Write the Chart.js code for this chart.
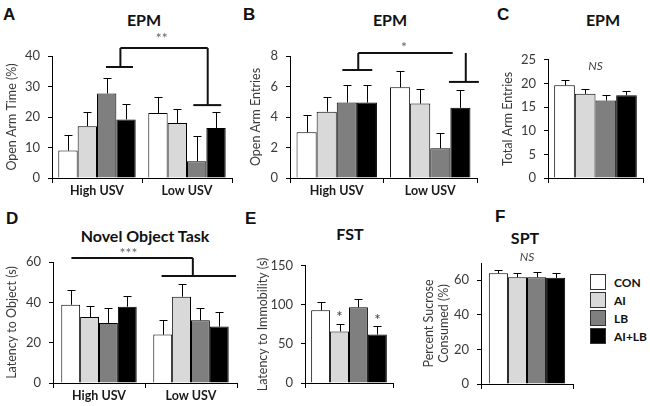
<!DOCTYPE html>
<html>
<head>
<meta charset="utf-8">
<script src="https://cdn.jsdelivr.net/npm/chart.js@4"></script>
<style>
  body { margin: 0; width: 650px; height: 406px; position: relative; overflow: hidden; background: #fff; font-family: Lato, sans-serif; }
  canvas { position: absolute; }
  .letter { position: absolute; font: bold 17px "Liberation Sans", Arial, sans-serif; color: #111; line-height: 17px; }
  .title { position: absolute; font: bold 16px Lato, sans-serif; color: #111; line-height: 16px; transform: translate(-50%, -50%); white-space: nowrap; }
  .legend { position: absolute; left: 590px; top: 273px; }
  .legend div { display: flex; align-items: center; height: 18px; font: bold 12px Lato, sans-serif; color: #111; }
  .legend span { display: inline-block; width: 14px; height: 14px; border: 1px solid #333; margin-right: 8px; }
</style>
</head>
<body>
<div class="letter" style="left:3px;top:6px">A</div>
<div class="letter" style="left:243px;top:6px">B</div>
<div class="letter" style="left:497px;top:6px">C</div>
<div class="letter" style="left:6px;top:210px">D</div>
<div class="letter" style="left:245px;top:210px">E</div>
<div class="letter" style="left:495px;top:208px">F</div>

<div class="title" style="left:144px;top:20px">EPM</div>
<div class="title" style="left:390px;top:20px">EPM</div>
<div class="title" style="left:603px;top:20px">EPM</div>
<div class="title" style="left:145px;top:236px">Novel Object Task</div>
<div class="title" style="left:350px;top:234px">FST</div>
<div class="title" style="left:525px;top:238px">SPT</div>

<canvas id="cA"></canvas>
<canvas id="cB"></canvas>
<canvas id="cC"></canvas>
<canvas id="cD"></canvas>
<canvas id="cE"></canvas>
<canvas id="cF"></canvas>

<div class="legend" id="legend"></div>

<script>
const groups = ["High USV", "Low USV"];
const treatments = ["CON", "AI", "LB", "AI+LB"];
const fills = ["#ffffff", "#d9d9d9", "#7f7f7f", "#000000"];

// A - EPM open arm time (%)
const armTimeHigh = [9, 17, 27.7, 19.2];
const armTimeHighErr = [5.1, 4.6, 5.1, 5];
const armTimeLow = [21.3, 18, 5.5, 16.4];
const armTimeLowErr = [5.3, 4.6, 8.2, 5.1];

// B - EPM open arm entries
const entriesHigh = [3.0, 4.35, 4.95, 4.95];
const entriesHighErr = [1.14, 0.95, 1.14, 1.14];
const entriesLow = [5.95, 4.88, 1.95, 4.6];
const entriesLowErr = [1.08, 0.98, 0.98, 1.18];

// C - EPM total arm entries
const totalEntries = [19.6, 17.8, 16.4, 17.5];
const totalEntriesErr = [1.2, 0.95, 1.2, 1.0];

// D - novel object latency (s)
const objectHigh = [38.8, 32.7, 29.8, 37.8];
const objectHighErr = [7.4, 5.6, 7.4, 5.4];
const objectLow = [24, 42.8, 31.1, 28];
const objectLowErr = [7.1, 6.5, 6.1, 7.3];

// E - FST latency to immobility (s)
const immobility = [93, 66, 97, 62];
const immobilityErr = [11, 10, 10.5, 11];

// F - SPT percent sucrose consumed
const sucrose = [64, 61.8, 61.8, 61.4];
const sucroseErr = [1.9, 2.2, 2.8, 2.6];

const tickColor = "#3a3a3a";

const errorBars = {
  id: "errorBars",
  afterDatasetsDraw(chart) {
    const ctx = chart.ctx;
    const y = chart.scales.y;
    ctx.save();
    ctx.strokeStyle = "#000";
    ctx.lineWidth = 1;
    chart.data.datasets.forEach((ds, i) => {
      chart.getDatasetMeta(i).data.forEach((bar, j) => {
        const top = Math.round(y.getPixelForValue(ds.data[j] + ds.errors[j])) + 0.5;
        const x = Math.round(bar.x) + 0.5;
        ctx.beginPath();
        ctx.moveTo(x, bar.y);
        ctx.lineTo(x, top);
        ctx.moveTo(x - 4, top);
        ctx.lineTo(x + 4, top);
        ctx.stroke();
      });
    });
    ctx.restore();
  }
};

// brackets and significance marks, in data units
function notes(spec) {
  return {
    id: "notes",
    afterDraw(chart) {
      const { ctx } = chart;
      const x = chart.scales.x, y = chart.scales.y;
      ctx.save();
      ctx.strokeStyle = "#111";
      ctx.lineWidth = 2;
      (spec.lines || []).forEach(([x1, y1, x2, y2]) => {
        ctx.beginPath();
        ctx.moveTo(x.getPixelForValue(x1), y.getPixelForValue(y1));
        ctx.lineTo(x.getPixelForValue(x2), y.getPixelForValue(y2));
        ctx.stroke();
      });
      ctx.textAlign = "center";
      ctx.textBaseline = "middle";
      (spec.labels || []).forEach(l => {
        ctx.font = l.font || "13px Lato";
        ctx.fillStyle = l.color || "#444";
        ctx.fillText(l.text, x.getPixelForValue(l.x), y.getPixelForValue(l.y));
      });
      (spec.barMarks || []).forEach(m => {
        const ds = chart.data.datasets[m.ds];
        const bar = chart.getDatasetMeta(m.ds).data[0];
        ctx.font = "15px Lato";
        ctx.fillStyle = "#333";
        ctx.fillText(m.text, bar.x, y.getPixelForValue(ds.data[0] + ds.errors[0]) - 6);
      });
      ctx.restore();
    }
  };
}

function makeChart(id, cfg) {
  const [left, top, right, bottom] = cfg.area;
  const padTop = cfg.padTop || 12, padRight = cfg.padRight || 4, xH = 24;
  const canvas = document.getElementById(id);
  canvas.width = right - left + cfg.yW + padRight;
  canvas.height = bottom - top + padTop + xH;
  canvas.style.left = (left - cfg.yW) + "px";
  canvas.style.top = (top - padTop) + "px";

  new Chart(canvas.getContext("2d"), {
    type: "bar",
    data: {
      labels: cfg.labels,
      datasets: treatments.map((t, i) => ({
        label: t,
        data: cfg.values[i],
        errors: cfg.errors[i],
        backgroundColor: fills[i],
        borderColor: "#000",
        borderWidth: 1,
        categoryPercentage: cfg.catPct,
        barPercentage: 1
      }))
    },
    options: {
      responsive: false,
      animation: false,
      layout: { padding: { top: padTop, right: padRight, left: 0, bottom: 0 } },
      plugins: { legend: { display: false }, tooltip: { enabled: false } },
      scales: {
        x: {
          afterFit(s) { s.height = xH; },
          grid: { display: true, drawOnChartArea: false, offset: true, tickLength: 5, color: "#000" },
          border: { color: "#000" },
          ticks: { padding: 0, color: "#1a1a1a", font: { family: "Lato", size: 12.5, weight: "bold" } }
        },
        y: {
          min: 0,
          max: cfg.yMax,
          afterFit(s) { s.width = cfg.yW; },
          grid: { display: true, drawOnChartArea: false, tickLength: 4, color: "#000" },
          border: { color: "#000" },
          ticks: { stepSize: cfg.step, padding: 8, color: tickColor, font: { family: "Lato", size: 13 } },
          title: {
            display: true,
            text: cfg.yTitle,
            color: tickColor,
            padding: { top: 0, bottom: 0 },
            font: { family: "Lato", size: 12.5 }
          }
        }
      }
    },
    plugins: [errorBars, notes(cfg.notes || {})]
  });
}

const pairs = (a, b) => a.map((v, i) => [v, b[i]]);
const singles = a => a.map(v => [v]);

makeChart("cA", {
  area: [52, 56, 232, 178], yW: 48, padTop: 28,
  labels: groups, yMax: 40, step: 10, catPct: 0.86,
  yTitle: "Open Arm Time (%)",
  values: pairs(armTimeHigh, armTimeLow),
  errors: pairs(armTimeHighErr, armTimeLowErr),
  notes: {
    lines: [[0.26, 42.6, 1.23, 42.6], [0.26, 42.6, 0.26, 36.4], [0.1, 36.4, 0.4, 36.4],
            [1.23, 42.6, 1.23, 23.9], [1.07, 23.9, 1.38, 23.9]],
    labels: [{ x: 0.72, y: 45.6, text: "**", font: "14px Lato", color: "#666" }]
  }
});

makeChart("cB", {
  area: [290, 56, 477, 178], yW: 42, padTop: 18, padRight: 8,
  labels: groups, yMax: 8, step: 2, catPct: 0.86,
  yTitle: "Open Arm Entries",
  values: pairs(entriesHigh, entriesLow),
  errors: pairs(entriesHighErr, entriesLowErr),
  notes: {
    lines: [[0.23, 8.2, 1.24, 8.2], [0.23, 8.2, 0.23, 7.08], [0.06, 7.08, 0.38, 7.08],
            [1.38, 8.2, 1.38, 6.3], [1.2, 6.3, 1.52, 6.3]],
    labels: [{ x: 0.72, y: 8.55, text: "*", font: "14px Lato", color: "#666" }]
  }
});

makeChart("cC", {
  area: [548, 56, 643, 178], yW: 48,
  labels: [""], yMax: 25, step: 5, catPct: 0.87,
  yTitle: "Total Arm Entries",
  values: singles(totalEntries),
  errors: singles(totalEntriesErr),
  notes: { labels: [{ x: 0, y: 23.6, text: "NS", font: "italic 12px Lato", color: "#444" }] }
});

makeChart("cD", {
  area: [53, 262, 237, 383], yW: 49, padTop: 20,
  labels: groups, yMax: 60, step: 20, catPct: 0.82,
  yTitle: "Latency to Object (s)",
  values: pairs(objectHigh, objectLow),
  errors: pairs(objectHighErr, objectLowErr),
  notes: {
    lines: [[-0.3, 62, 1.02, 62], [1.02, 62, 1.02, 53], [0.68, 53, 1.49, 53]],
    labels: [{ x: 0.32, y: 64.3, text: "***", font: "14px Lato", color: "#666" }]
  }
});

makeChart("cE", {
  area: [305, 262, 393, 383], yW: 50,
  labels: [""], yMax: 150, step: 50, catPct: 0.86,
  yTitle: "Latency to Immobility (s)",
  values: singles(immobility),
  errors: singles(immobilityErr),
  notes: { barMarks: [{ ds: 1, text: "*" }, { ds: 3, text: "*" }] }
});

makeChart("cF", {
  area: [481, 263, 573, 384], yW: 60, padTop: 16,
  labels: [""], yMax: 70, step: 10, catPct: 0.83,
  yTitle: ["Percent Sucrose", "Consumed (%)"],
  values: singles(sucrose),
  errors: singles(sucroseErr),
  notes: { labels: [{ x: 0, y: 73.5, text: "NS", font: "italic 12px Lato", color: "#444" }] }
});

// legend
const legend = document.getElementById("legend");
treatments.forEach((t, i) => {
  const row = document.createElement("div");
  const sw = document.createElement("span");
  sw.style.background = fills[i];
  row.appendChild(sw);
  row.appendChild(document.createTextNode(t));
  legend.appendChild(row);
});
</script>
</body>
</html>
